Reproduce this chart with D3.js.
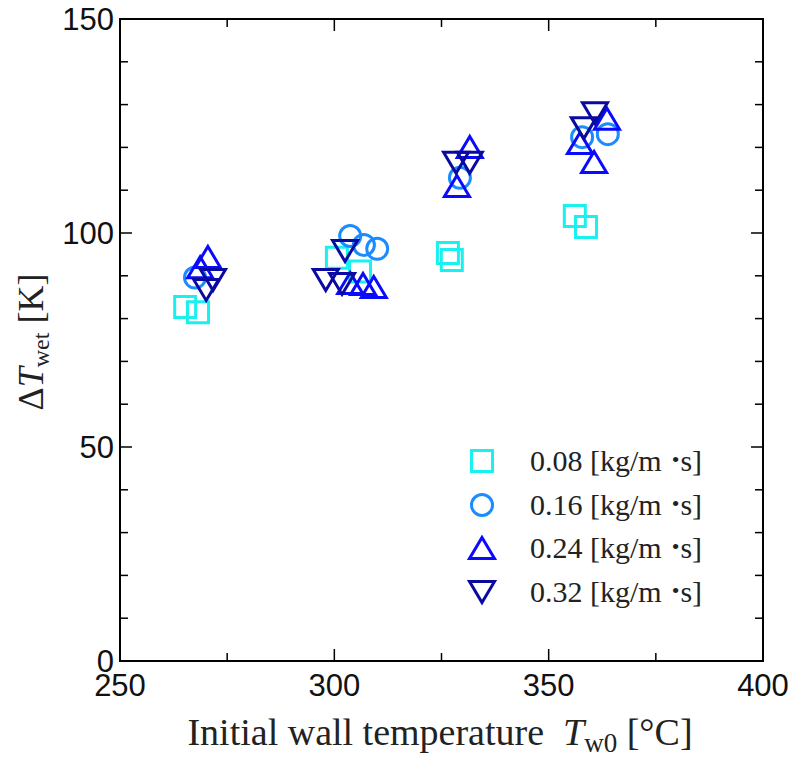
<!DOCTYPE html>
<html>
<head>
<meta charset="utf-8">
<script src="https://cdn.jsdelivr.net/npm/d3@7"></script>
<style>
  body { margin: 0; background: #fff; }
</style>
</head>
<body>
<div class="Canvas"></div>
<script>
// values
let seriesNames = ['0.08', '0.16', '0.24', '0.32'];
let sqX = [265.2, 268.2, 300.6, 306.0, 326.5, 327.4, 356.1, 358.7];
let sqY = [82.7, 81.5, 94.2, 91.0, 95.3, 93.7, 104.0, 101.4];
let ciX = [267.5, 303.7, 306.9, 310.0, 329.3, 357.8, 363.8];
let ciY = [89.6, 99.3, 97.2, 96.3, 112.9, 122.4, 123.1];
let upX = [268.7, 270.5, 303.7, 306.7, 309.2, 328.6, 331.6, 357.3, 360.6, 363.6];
let upY = [92.0, 94.4, 88.3, 88.1, 87.4, 111.0, 120.1, 121.0, 116.6, 126.7];
let dnX = [270.1, 271.7, 298.0, 301.8, 302.5, 328.4, 331.6, 358.2, 360.8];
let dnY = [86.7, 89.0, 89.0, 88.1, 95.8, 116.4, 116.4, 124.5, 128.0];

let xTicks = [250, 300, 350, 400];
let yTicks = [0, 50, 100, 150];

let width = 791;
let height = 761;
let mLeft = 120, mRight = 763, mTop = 19, mBottom = 661;
let majorLen = 12, minorLen = 8;

let x = d3.scaleLinear().domain([250, 400]).range([mLeft, mRight]);
let y = d3.scaleLinear().domain([0, 150]).range([mBottom, mTop]);

let svg = d3.select('.Canvas').append('svg').attr('width', width).attr('height', height);

// markers drawn as paths around (0,0)
function squarePath() { return 'M-10.5,-10.5H10.5V10.5H-10.5Z'; }
function circlePath() { return d3.arc()({ innerRadius: 0, outerRadius: 10.5, startAngle: 0, endAngle: 2 * Math.PI }); }
function upPath() { return 'M0,-10.5L12.5,10.5L-12.5,10.5Z'; }
function downPath() { return 'M0,10.5L12.5,-10.5L-12.5,-10.5Z'; }

let series = [
    { xs: sqX, ys: sqY, color: '#19f0f0', path: squarePath },
    { xs: ciX, ys: ciY, color: '#1a8cff', path: circlePath },
    { xs: upX, ys: upY, color: '#0a0aff', path: upPath },
    { xs: dnX, ys: dnY, color: '#0a0aa0', path: downPath },
];

// frame
svg.append('rect')
    .attr('x', mLeft).attr('y', mTop)
    .attr('width', mRight - mLeft).attr('height', mBottom - mTop)
    .attr('fill', 'none').attr('stroke', 'black').attr('stroke-width', 2);

// ticks (inward on all four sides)
let g = svg.append('g').attr('stroke', 'black').attr('stroke-width', 1.5);
d3.range(250, 401, 25).forEach((v) => {
    let len = v % 50 == 0 ? majorLen : minorLen;
    g.append('line').attr('x1', x(v)).attr('x2', x(v)).attr('y1', mBottom).attr('y2', mBottom - len);
    g.append('line').attr('x1', x(v)).attr('x2', x(v)).attr('y1', mTop).attr('y2', mTop + len);
});
d3.range(0, 151, 10).forEach((v) => {
    let len = v % 50 == 0 ? majorLen : minorLen;
    g.append('line').attr('x1', mLeft).attr('x2', mLeft + len).attr('y1', y(v)).attr('y2', y(v));
    g.append('line').attr('x1', mRight).attr('x2', mRight - len).attr('y1', y(v)).attr('y2', y(v));
});

// tick labels
svg.append('g').selectAll('text').data(xTicks).enter().append('text')
    .attr('x', (d) => x(d)).attr('y', mBottom + 35)
    .attr('text-anchor', 'middle')
    .attr('font-family', 'Liberation Sans, Arial, sans-serif')
    .attr('font-size', '31px')
    .attr('fill', '#111')
    .text((d) => d);
svg.append('g').selectAll('text').data(yTicks).enter().append('text')
    .attr('x', mLeft - 6).attr('y', (d) => y(d) + 11)
    .attr('text-anchor', 'end')
    .attr('font-family', 'Liberation Sans, Arial, sans-serif')
    .attr('font-size', '31px')
    .attr('fill', '#111')
    .text((d) => d);

// points
series.forEach((s) => {
    svg.append('g').selectAll('path').data(s.xs).enter().append('path')
        .attr('d', s.path())
        .attr('transform', (d, i) => `translate(${x(d)},${y(s.ys[i])})`)
        .attr('fill', 'none')
        .attr('stroke', s.color)
        .attr('stroke-width', 3);
});

// legend
let legendY = [461, 505, 548, 592];
series.forEach((s, i) => {
    svg.append('path')
        .attr('d', s.path())
        .attr('transform', `translate(482,${legendY[i]})`)
        .attr('fill', 'none').attr('stroke', s.color).attr('stroke-width', 3);
    let t = svg.append('text')
        .attr('x', 530).attr('y', legendY[i] + 10)
        .attr('font-family', 'Liberation Serif, Times New Roman, serif')
        .attr('font-size', '30px')
        .attr('fill', '#222');
    t.append('tspan').text(seriesNames[i] + ' [kg/m');
    t.append('tspan').attr('font-size', '22px').attr('dx', 10).attr('dy', -4).text('•');
    t.append('tspan').attr('dx', 1).attr('dy', 4).text('s]');
});

// axis titles
let xt = svg.append('text')
    .attr('x', 440).attr('y', 745)
    .attr('text-anchor', 'middle')
    .attr('font-family', 'Liberation Serif, Times New Roman, serif')
    .attr('font-size', '38px')
    .attr('fill', '#222');
xt.append('tspan').text('Initial wall temperature\u00a0\u00a0');
xt.append('tspan').attr('font-style', 'italic').text('T');
xt.append('tspan').attr('font-size', '27px').attr('dy', 7).text('w0');
xt.append('tspan').attr('dy', -7).text(' [°C]');

let yt = svg.append('text')
    .attr('transform', 'translate(43,342) rotate(-90)')
    .attr('text-anchor', 'middle')
    .attr('font-family', 'Liberation Serif, Times New Roman, serif')
    .attr('font-size', '36px')
    .attr('fill', '#222');
yt.append('tspan').text('Δ');
yt.append('tspan').attr('font-style', 'italic').text('T');
yt.append('tspan').attr('font-size', '24px').attr('dy', 6).text('wet');
yt.append('tspan').attr('dy', -6).text(' [K]');
</script>
</body>
</html>
